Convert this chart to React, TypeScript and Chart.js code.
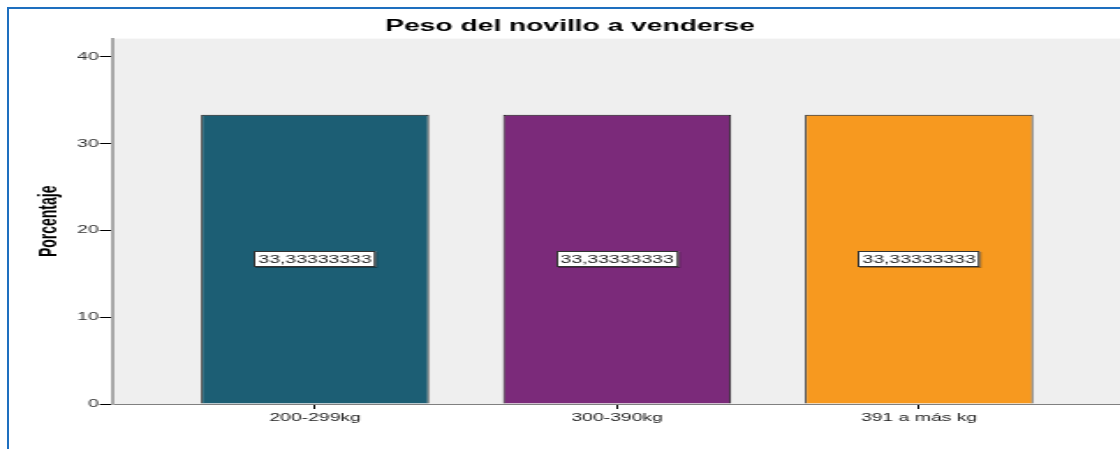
import { useEffect, useRef } from "react";
import { Chart, registerables } from "chart.js";

Chart.register(...registerables);

// ---- data ----
const categories = ["200-299kg", "300-390kg", "391 a más kg"];
const percentages = [33.33333333, 33.33333333, 33.33333333];
const barColors = ["#1C5E74", "#7B2A7A", "#F7991F"];
const yTickValues = [0, 10, 20, 30, 40];
const chartTitle = "Peso del novillo a venderse";
const yAxisTitle = "Porcentaje";

// ---- layout (the original is horizontally stretched) ----
const STRETCH = 1.761;
const LOGICAL_W = 636;
const H = 449;
const FONT = "Arial, 'Liberation Sans', sans-serif";

const bgPlugin = {
  id: "plotBg",
  beforeDraw(chart: any) {
    const { ctx, chartArea } = chart;
    if (!chartArea) return;
    ctx.save();
    ctx.fillStyle = "#EFEFEF";
    ctx.fillRect(chartArea.left, chartArea.top, chartArea.right - chartArea.left, chartArea.bottom - chartArea.top);
    ctx.restore();
  },
};

const labelPlugin = {
  id: "valueBoxes",
  afterDatasetsDraw(chart: any) {
    const { ctx } = chart;
    const meta = chart.getDatasetMeta(0);
    const ds = chart.data.datasets[0];
    ctx.save();
    ctx.font = `11px ${FONT}`;
    ctx.textAlign = "center";
    ctx.textBaseline = "middle";
    meta.data.forEach((el: any, i: number) => {
      const { x, y, base } = el.getProps(["x", "y", "base"], true);
      const v = (ds.data[i] as any).y as number;
      const txt = v.toFixed(8).replace(".", ",");
      const cy = (y + base) / 2;
      const w = ctx.measureText(txt).width + 5;
      const h = 16;
      const lx = Math.round(x - w / 2);
      const ty = Math.round(cy - h / 2);
      ctx.fillStyle = "rgba(0,0,0,0.35)";
      ctx.fillRect(lx + 1, ty + 1, w, h);
      ctx.fillStyle = "#FFFFFF";
      ctx.fillRect(lx, ty, w, h);
      ctx.strokeStyle = "#333333";
      ctx.lineWidth = 1;
      ctx.strokeRect(lx + 0.5, ty + 0.5, w - 1, h - 1);
      ctx.fillStyle = "#222222";
      ctx.fillText(txt, x, cy + 0.5);
    });
    ctx.restore();
  },
};

export default function App() {
  const ref = useRef<HTMLCanvasElement | null>(null);

  useEffect(() => {
    if (!ref.current) return;
    const chart = new Chart(ref.current, {
      type: "bar",
      data: {
        datasets: [
          {
            data: percentages.map((v, i) => ({ x: i + 1, y: v })),
            backgroundColor: barColors,
            borderColor: "#1a1a1a",
            borderWidth: 1,
            barPercentage: 0.755,
            categoryPercentage: 1,
          },
        ],
      },
      options: {
        animation: false,
        responsive: false,
        devicePixelRatio: 1,
        layout: { padding: { left: 11.4, right: 0, top: 0, bottom: 0 } },
        plugins: {
          legend: { display: false },
          tooltip: { enabled: false },
          title: {
            display: true,
            text: chartTitle,
            color: "#000",
            font: { family: FONT, size: 16, weight: "bold" },
            padding: { top: 17, bottom: 2.4 },
          },
        },
        scales: {
          x: {
            type: "linear",
            offset: false,
            min: 0.3277,
            max: 3.6653,
            afterBuildTicks: (s: any) => {
              s.ticks = categories.map((_, i) => ({ value: i + 1 }));
            },
            afterFit: (s: any) => {
              s.height = 45;
              s.paddingLeft = 0;
              s.paddingRight = 0;
            },
            ticks: {
              autoSkip: false,
              maxRotation: 0,
              padding: 2,
              color: "#222",
              font: { family: FONT, size: 11 },
              callback: (v: any) => categories[Math.round(Number(v)) - 1] ?? "",
            },
            grid: { offset: false, drawOnChartArea: false, drawTicks: true, tickLength: 5, color: "#000", lineWidth: 1 },
            border: { display: true, color: "#808080", width: 1 },
          },
          y: {
            type: "linear",
            min: 0,
            max: 42.1,
            afterBuildTicks: (s: any) => {
              s.ticks = yTickValues.map((v) => ({ value: v }));
            },
            afterFit: (s: any) => {
              s.width = 52.2;
            },
            ticks: {
              padding: 0.5,
              color: "#333",
              font: { family: FONT, size: 11 },
            },
            grid: { drawOnChartArea: false, drawTicks: true, tickLength: 7, color: "#000", lineWidth: 1 },
            border: { display: true, color: "#A8A8A8", width: 2 },
            title: {
              display: true,
              text: yAxisTitle,
              color: "#000",
              font: { family: FONT, size: 14, weight: "bold" },
              padding: { top: 8.6, bottom: 0 },
            },
          },
        },
      },
      plugins: [bgPlugin, labelPlugin],
    } as any);
    return () => chart.destroy();
  }, []);

  return (
    <div
      style={{
        position: "fixed",
        left: 0,
        top: 0,
        width: 1120,
        height: H,
        overflow: "hidden",
        background: "#fff",
      }}
    >
      <div style={{ width: LOGICAL_W, height: H, transform: `scaleX(${STRETCH})`, transformOrigin: "0 0" }}>
        <canvas ref={ref} width={LOGICAL_W} height={H} style={{ display: "block" }} />
      </div>
      <div
        style={{
          position: "absolute",
          left: 7,
          top: 7,
          width: 1150,
          height: 480,
          borderTop: "2px solid #1E6FBF",
          borderLeft: "2px solid #1E6FBF",
          pointerEvents: "none",
        }}
      />
    </div>
  );
}
